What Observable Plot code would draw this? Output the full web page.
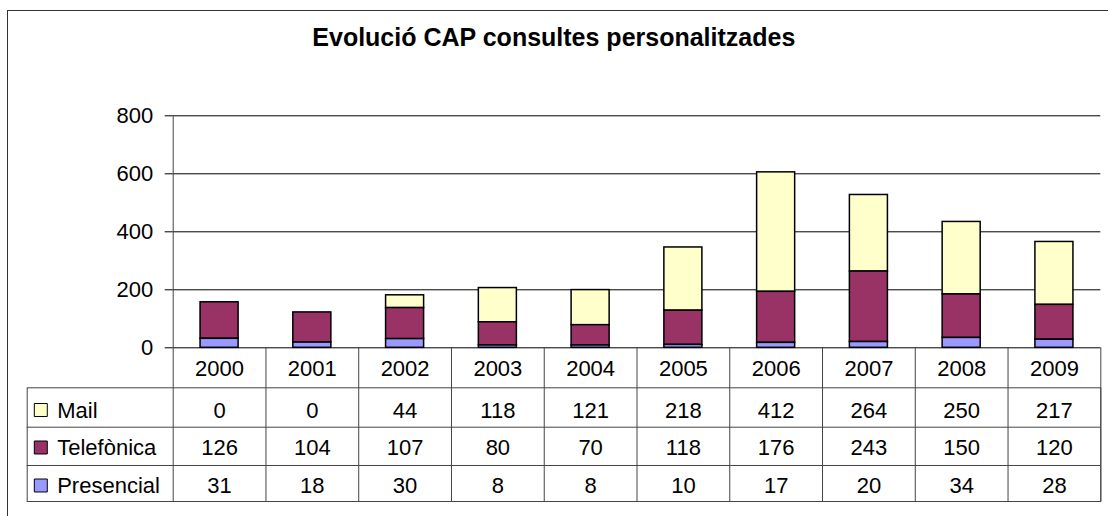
<!DOCTYPE html>
<html><head><meta charset="utf-8">
<script src="https://cdn.jsdelivr.net/npm/d3@7"></script>
<script src="https://cdn.jsdelivr.net/npm/@observablehq/plot@0.6"></script>
<style>
html,body{margin:0;padding:0;background:#fff;overflow:hidden}
#wrap{position:relative;width:1108px;height:516px;overflow:hidden}
#border{position:absolute;left:7px;top:10px;width:1200px;height:600px;border-top:1.5px solid #333;border-left:1.5px solid #333;pointer-events:none}
#chart svg{display:block}
</style>
</head><body><div id="wrap"><div id="chart"></div><div id="border"></div></div>
<script>
const title = "Evolució CAP consultes personalitzades";
const years = ["2000","2001","2002","2003","2004","2005","2006","2007","2008","2009"];
const mail = [0,0,44,118,121,218,412,264,250,217];
const telefonica = [126,104,107,80,70,118,176,243,150,120];
const presencial = [31,18,30,8,8,10,17,20,34,28];
const seriesNames = ["Mail","Telefònica","Presencial"];
const seriesColors = ["#FFFFCC","#993366","#9999FF"];
const stackOrder = ["Presencial","Telefònica","Mail"];
const yTicks = [0,200,400,600,800];

const seriesValues = {"Mail": mail, "Telefònica": telefonica, "Presencial": presencial};
const data = [];
years.forEach((yr, i) => {
  for (const s of seriesNames) data.push({year: yr, series: s, value: seriesValues[s][i]});
});

const W = 1108, H = 516, mL = 172.7, mR = 7.7, mT = 115.3, mB = 168.7;
const frameH = H - mT - mB;
const step = (W - mL - mR) / years.length;
const tableBottom = 153.7;
const legendLeft = 146;
const lineColor = "#444";
const rowTextDy = {"Mail": 63, "Telefònica": 100.5, "Presencial": 138.5};
const rowSwatchDy = {"Mail": 62.2, "Telefònica": 99.7, "Presencial": 137.7};
const font = "Arial, 'Liberation Sans', sans-serif";

const marks = [
  Plot.ruleY(yTicks.filter(v => v > 0), {stroke: "#000", strokeWidth: 1}),
  Plot.barY(data, Plot.stackY({x: "year", y: "value", fill: "series", order: stackOrder, stroke: "#000", strokeWidth: 1.5})),
  Plot.ruleY([0], {stroke: "#000", strokeWidth: 1}),
  Plot.ruleX([years[0]], {x: d => d, dx: -step / 2, insetBottom: -tableBottom, stroke: lineColor}),
  Plot.ruleX(years.slice(1), {x: d => d, dx: -step / 2, insetTop: frameH, insetBottom: -tableBottom, stroke: lineColor}),
  Plot.ruleX([years[years.length - 1]], {x: d => d, dx: step / 2, insetTop: frameH, insetBottom: -tableBottom, stroke: lineColor}),
  Plot.frame({insetTop: frameH + 40, insetBottom: -tableBottom, insetLeft: -legendLeft, stroke: lineColor}),
  Plot.ruleY([0], {dy: 79.4, insetLeft: -legendLeft, stroke: lineColor}),
  Plot.ruleY([0], {dy: 117.7, insetLeft: -legendLeft, stroke: lineColor}),
  Plot.text(years, {x: d => d, text: d => d, frameAnchor: "bottom", lineAnchor: "middle", dy: 21.5, fill: "#000"}),
  ...seriesNames.map(s => Plot.text(data.filter(d => d.series === s), {x: "year", text: d => String(d.value), frameAnchor: "bottom", lineAnchor: "middle", dy: rowTextDy[s], fill: "#000"})),
  ...seriesNames.map(s => Plot.text([s], {text: d => d, frameAnchor: "bottom-left", lineAnchor: "middle", dx: -116, dy: rowTextDy[s], textAnchor: "start", fill: "#000"})),
  ...seriesNames.map(s => Plot.dot([s], {fill: d => d, symbol: "square", r: 7.33, stroke: "#000", strokeWidth: 1, frameAnchor: "bottom-left", dx: -132.4, dy: rowSwatchDy[s]})),
  Plot.text([title], {text: d => d, frameAnchor: "top", lineAnchor: "middle", dx: -83.2, dy: -78.3, fontSize: 25, fontWeight: "bold", fill: "#000"})
];

const chart = Plot.plot({
  width: W, height: H,
  marginLeft: mL, marginRight: mR, marginTop: mT, marginBottom: mB,
  style: {fontFamily: font, fontSize: "22px", color: "#000", background: "#fff"},
  x: {domain: years, paddingInner: 0.59, paddingOuter: 0.295, round: false, axis: null},
  y: {domain: [0, 800], ticks: yTicks, tickSize: 8, tickPadding: 12, label: null, tickFormat: d => String(d)},
  color: {domain: seriesNames, range: seriesColors},
  marks
});
document.getElementById("chart").appendChild(chart);
</script>
</body></html>
